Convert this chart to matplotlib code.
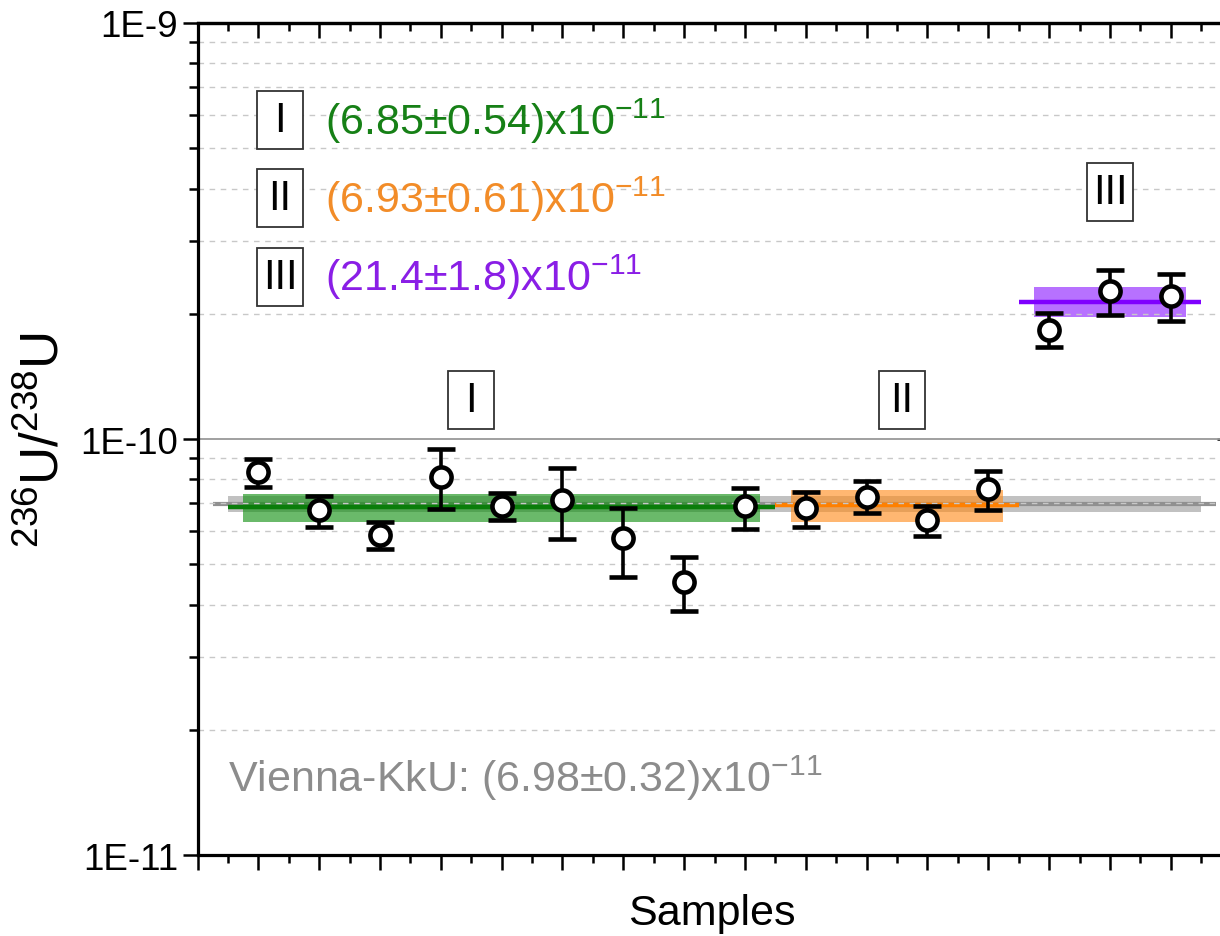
import matplotlib
matplotlib.use("Agg")
import matplotlib.pyplot as plt
from matplotlib.patches import Rectangle
from matplotlib.ticker import FixedLocator, NullFormatter, MultipleLocator
import matplotlib.transforms as mtransforms

plt.rcParams['font.family'] = ['Liberation Sans', 'DejaVu Sans']
plt.rcParams['mathtext.fontset'] = 'custom'
plt.rcParams['mathtext.rm'] = 'Liberation Sans'
plt.rcParams['mathtext.it'] = 'Liberation Sans:italic'
plt.rcParams['mathtext.bf'] = 'Liberation Sans:bold'

# ---------------- data (units of 1e-11) ----------------
samples = list(range(1, 17))
ratio = [8.32, 6.75, 5.88, 8.12, 6.89, 7.15, 5.77, 4.54, 6.89,
         6.81, 7.27, 6.39, 7.58, 18.3, 22.7, 22.1]
upper = [8.95, 7.31, 6.31, 9.46, 7.42, 8.50, 6.83, 5.20, 7.62,
         7.45, 7.91, 6.91, 8.36, 20.1, 25.5, 24.9]
lower = [7.68, 6.14, 5.44, 6.79, 6.40, 5.75, 4.67, 3.87, 6.08,
         6.16, 6.63, 5.86, 6.76, 16.6, 19.9, 19.2]

group_names = ['I', 'II', 'III']
group_first = [1, 10, 14]
group_last = [9, 13, 16]
group_mean = [6.85, 6.93, 21.4]
group_err = [0.54, 0.61, 1.8]
group_labels = ['(6.85±0.54)x10', '(6.93±0.61)x10', '(21.4±1.8)x10']
group_line_colors = ['#0a7d0a', '#ff8000', '#7f00ff']
group_band_colors = ['#0f8f0f', '#ff8c1a', '#8c1aff']
group_text_colors = ['#168016', '#f28c28', '#8a1ee6']

ref_name = 'Vienna-KkU'
ref_mean = 6.98
ref_err = 0.32
scale = 1e-11

ytick_vals = [1e-11, 1e-10, 1e-9]
ytick_labels = ['1E-11', '1E-10', '1E-9']

# ---------------- figure ----------------
fig = plt.figure(figsize=(12.2, 9.37), dpi=100)
ax = fig.add_axes([0.1619, 0.0864, 0.8476, 0.888])
ax.set_yscale('log')
ax.set_ylim(1e-11, 1e-9)
ax.set_xlim(0, 17)

# grid
minor_vals = [m * 10.0 ** e for e in (-11, -10) for m in range(2, 10)]
for v in minor_vals:
    ax.axhline(v, color='#c8c8c8', lw=1.0, ls=(0, (4, 4)), zorder=2.5)
ax.axhline(1e-10, color='#999999', lw=1.3, zorder=2.5)

# reference band
x0, x1 = samples[0] - 0.5, samples[-1] + 0.5
ax.fill_between([x0, x1], (ref_mean - ref_err) * scale, (ref_mean + ref_err) * scale,
                color='#a0a0a0', alpha=0.65, lw=0, zorder=1)
ax.hlines(ref_mean * scale, samples[0] - 0.75, samples[-1] + 0.75,
          color='#909090', lw=3, zorder=1.2)

# group bands
for i in range(3):
    f, l = group_first[i], group_last[i]
    ax.fill_between([f - 0.25, l + 0.25],
                    (group_mean[i] - group_err[i]) * scale,
                    (group_mean[i] + group_err[i]) * scale,
                    color=group_band_colors[i], alpha=0.62, lw=0, zorder=1.5)
    ax.hlines(group_mean[i] * scale, f - 0.5, l + 0.5,
              color=group_line_colors[i], lw=3.2, zorder=2)

# data points
y = [r * scale for r in ratio]
yerr = [[(r - lo) * scale for r, lo in zip(ratio, lower)],
        [(up - r) * scale for r, up in zip(ratio, upper)]]
ax.errorbar(samples, y, yerr=yerr, fmt='o', ms=14.5, mfc='white', mec='black',
            mew=3.3, ecolor='black', elinewidth=2.6, capsize=10, capthick=3,
            zorder=4)

# ticks
ax.set_yticks(ytick_vals)
ax.set_yticklabels(ytick_labels)
ax.yaxis.set_minor_locator(FixedLocator(minor_vals))
ax.yaxis.set_minor_formatter(NullFormatter())
ax.xaxis.set_major_locator(MultipleLocator(1))
ax.xaxis.set_minor_locator(MultipleLocator(0.5))
ax.tick_params(axis='x', which='both', direction='out', labelbottom=False, top=False)
ax.tick_params(axis='x', which='major', length=11, width=1.8)
ax.tick_params(axis='x', which='minor', length=6, width=1.8)
ax.tick_params(axis='y', which='both', direction='out', right=False)
ax.tick_params(axis='y', which='major', length=11, width=1.8, labelsize=26.5, pad=3)
ax.tick_params(axis='y', which='minor', length=6.5, width=1.8)

sec = ax.secondary_xaxis('top')
sec.xaxis.set_major_locator(MultipleLocator(1))
sec.xaxis.set_minor_locator(MultipleLocator(0.5))
sec.tick_params(axis='x', which='both', direction='in', labeltop=False)
sec.tick_params(axis='x', which='major', length=11, width=1.8)
sec.tick_params(axis='x', which='minor', length=6, width=1.8)
sec.spines['top'].set_linewidth(2.3)

secy = ax.secondary_yaxis('right')
secy.set_yticks(ytick_vals)
secy.yaxis.set_minor_locator(FixedLocator([]))
secy.tick_params(axis='y', which='major', direction='in', length=11, width=1.8, labelright=False)

for s in ['left', 'bottom', 'top', 'right']:
    ax.spines[s].set_linewidth(2.3)

ax.set_xlabel('Samples', fontsize=31)
ax.xaxis.set_label_coords(0.4975, -0.046)
ax.set_ylabel(r'$^{\mathregular{236}}$U/$^{\mathregular{238}}$U', fontsize=38)
ax.yaxis.set_label_coords(-0.124, 0.5)

# legend-like annotations
box_w, box_h = 0.0445, 0.0697
leg_y = [0.8834, 0.7891, 0.6953]
for i in range(3):
    cx, cy = 0.0798, leg_y[i]
    ax.add_patch(Rectangle((cx - box_w / 2, cy - box_h / 2), box_w, box_h,
                           transform=ax.transAxes, fc='white', ec='#333333',
                           lw=1.3, zorder=5))
    ax.text(cx, cy, group_names[i], transform=ax.transAxes, ha='center',
            va='center', fontsize=30, zorder=6)
    ax.text(0.1233, cy, group_labels[i] + r'$^{\mathregular{-11}}$',
            transform=ax.transAxes, ha='left', va='center', fontsize=31,
            color=group_text_colors[i], zorder=6)

# group labels above data
blend = mtransforms.blended_transform_factory(ax.transData, ax.transAxes)
grp_lab_x = [4.5, 11.58, 15.0]
grp_lab_y = [0.5463, 0.547, 0.797]
bw_data = 0.756
for i in range(3):
    cx, cy = grp_lab_x[i], grp_lab_y[i]
    ax.add_patch(Rectangle((cx - bw_data / 2, cy - box_h / 2), bw_data, box_h,
                           transform=blend, fc='white', ec='#333333', lw=1.3,
                           zorder=5))
    ax.text(cx, cy, group_names[i], transform=blend, ha='center', va='center',
            fontsize=30, zorder=6)

ax.text(0.0295, 0.094, f'{ref_name}: ({ref_mean:.2f}±{ref_err:.2f})x10' + r'$^{\mathregular{-11}}$',
        transform=ax.transAxes, ha='left', va='center', fontsize=31,
        color='#8c8c8c', zorder=6)

fig.savefig('out.png', dpi=100)
